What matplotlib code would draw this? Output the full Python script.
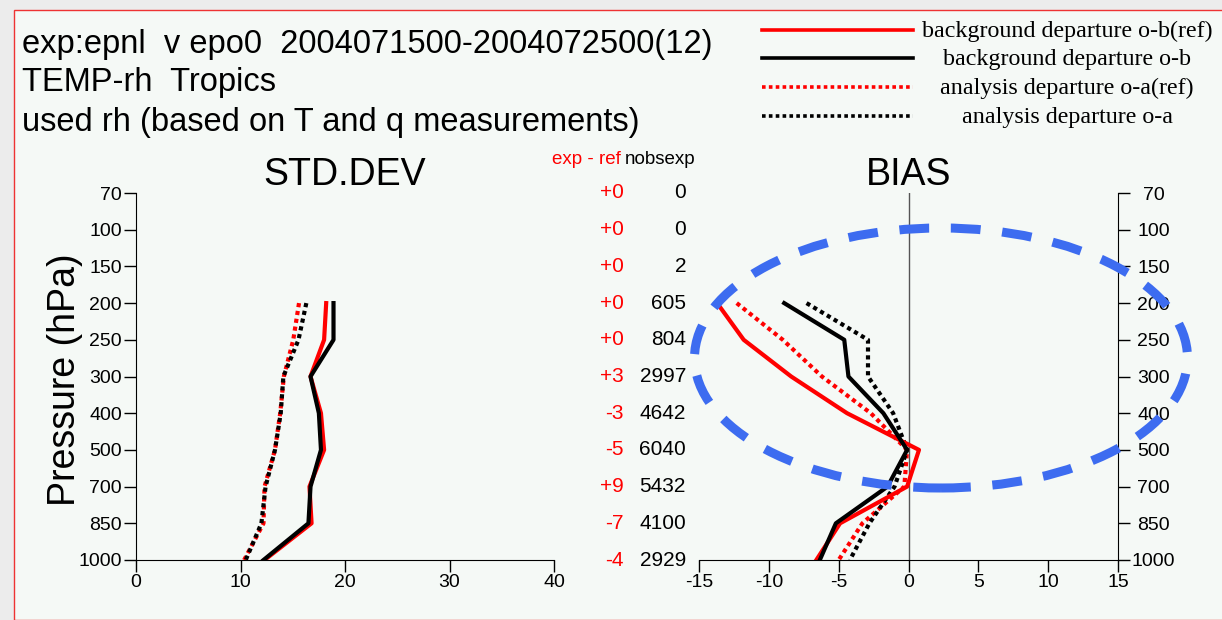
import numpy as np
import matplotlib
matplotlib.use('Agg')
import matplotlib.pyplot as plt
from matplotlib.patches import Ellipse, Rectangle
from matplotlib.lines import Line2D
import matplotlib.transforms as mtransforms

plt.rcParams['axes.unicode_minus'] = False

# pressure levels (hPa), top to bottom
levels = ['70', '100', '150', '200', '250', '300', '400', '500', '700', '850', '1000']
used_levels = ['200', '250', '300', '400', '500', '700', '850', '1000']

# STD.DEV profiles
std_ob_ref = [18.2, 18.0, 16.7, 17.7, 18.0, 16.6, 16.8, 12.3]
std_ob = [18.9, 18.9, 16.7, 17.5, 17.7, 16.7, 16.5, 12.2]
std_oa_ref = [15.6, 15.05, 14.15, 13.8, 13.3, 12.3, 12.2, 10.35]
std_oa = [16.3, 15.55, 14.1, 13.85, 13.3, 12.4, 12.0, 10.5]

# BIAS profiles
bias_ob_ref = [-13.7, -11.8, -8.4, -4.4, 0.75, -0.1, -4.9, -6.6]
bias_ob = [-8.9, -4.6, -4.3, -1.8, -0.1, -1.5, -5.2, -6.35]
bias_oa_ref = [-12.3, -9.0, -6.2, -2.7, -0.1, -0.3, -3.3, -5.0]
bias_oa = [-7.3, -2.9, -2.9, -1.1, -0.1, -1.0, -2.8, -4.2]

# numbers between the panels
diff_exp_ref = ['+0', '+0', '+0', '+0', '+0', '+3', '-3', '-5', '+9', '-7', '-4']
nobs_exp = ['0', '0', '2', '605', '804', '2997', '4642', '6040', '5432', '4100', '2929']

legend_labels = ['background departure o-b(ref)', 'background departure o-b',
                 'analysis departure o-a(ref)', 'analysis departure o-a']

W, H = 1222, 620
fig = plt.figure(figsize=(W / 100, H / 100), dpi=100)
fig.patch.set_facecolor('#ececec')

# inner frame with red border
fig.patches.append(Rectangle((14 / W, 0), 1.0, 1 - 10 / H, transform=fig.transFigure,
                             facecolor='#f5f9f6', edgecolor='#ee3333', lw=1.0, zorder=-10))

sans = 'Liberation Sans'
serif = 'Liberation Serif'

# header text
for i, s in enumerate(['exp:epnl  v epo0  2004071500-2004072500(12)',
                       'TEMP-rh  Tropics',
                       'used rh (based on T and q measurements)']):
    fig.text(22 / W, 1 - (44 + 39 * i) / H, s, fontsize=23.5, family=sans,
             va='center', ha='left')

# legend drawn by hand
dot = (0, (1.0, 0.9))
styles = [dict(color='#ff0000', ls='-'), dict(color='black', ls='-'),
          dict(color='#ff0000', ls=dot), dict(color='black', ls=dot)]
leg_y = [30, 58, 87, 116]
for lab, st, y in zip(legend_labels, styles, leg_y):
    fig.lines.append(Line2D([762 / W, 913 / W], [1 - y / H, 1 - y / H], transform=fig.transFigure,
                            lw=2.6, **st))
    fig.text(1067 / W, 1 - (y + 1) / H, lab, fontsize=17.3, family=serif, ha='center', va='center')

ypos = [levels.index(l) for l in used_levels]

# STD.DEV panel
ax1 = fig.add_axes([136 / W, 1 - 560 / H, 418 / W, 367 / H])
ax1.set_facecolor('none')
ax1.plot(std_oa_ref, ypos, color='#ff0000', lw=3, ls=dot)
ax1.plot(std_oa, ypos, color='black', lw=3, ls=dot)
ax1.plot(std_ob_ref, ypos, color='#ff0000', lw=3)
ax1.plot(std_ob, ypos, color='black', lw=3)
ax1.set_xlim(0, 40)
ax1.set_ylim(len(levels) - 1, 0)
ax1.set_xticks([0, 10, 20, 30, 40])
ax1.set_yticks(range(len(levels)))
ax1.set_yticklabels(levels)
for s in ['top', 'right']:
    ax1.spines[s].set_visible(False)
ax1.tick_params(length=8.6, width=1, labelsize=14, pad=1.5)
ax1.set_ylabel('Pressure (hPa)', fontsize=27, family=sans)
ax1.yaxis.set_label_coords(-0.127, 0.49)
ax1.set_title('STD.DEV', fontsize=27, family=sans, pad=6)

# BIAS panel
ax2 = fig.add_axes([699 / W, 1 - 560 / H, 419 / W, 367 / H])
ax2.set_facecolor('none')
ax2.axvline(0, color='#555555', lw=1.0)
ax2.plot(bias_oa_ref, ypos, color='#ff0000', lw=3, ls=dot)
ax2.plot(bias_oa, ypos, color='black', lw=3, ls=dot)
ax2.plot(bias_ob_ref, ypos, color='#ff0000', lw=3)
ax2.plot(bias_ob, ypos, color='black', lw=3)
ax2.set_xlim(-15, 15)
ax2.set_ylim(len(levels) - 1, 0)
ax2.set_xticks([-15, -10, -5, 0, 5, 10, 15])
ax2.set_yticks(range(len(levels)))
ax2.set_yticklabels(levels)
ax2.yaxis.tick_right()
for s in ['top', 'left']:
    ax2.spines[s].set_visible(False)
ax2.tick_params(length=8.6, width=1, labelsize=14, pad=1.5)
ax2.tick_params(axis='y', pad=17)
for lab in ax2.get_yticklabels():
    lab.set_horizontalalignment('center')
ax2.set_title('BIAS', fontsize=27, family=sans, pad=6)

for ax in (ax1, ax2):
    for lab in ax.get_xticklabels() + ax.get_yticklabels():
        lab.set_family(sans)

# nobs columns
tr = mtransforms.blended_transform_factory(fig.transFigure, ax2.transData)
for i, (d, n) in enumerate(zip(diff_exp_ref, nobs_exp)):
    fig.text(624 / W, i, d, transform=tr, color='#ff0000', fontsize=15, family=sans,
             ha='right', va='center')
    fig.text(686 / W, i, n, transform=tr, color='black', fontsize=15, family=sans,
             ha='right', va='center')
fig.text(552 / W, 1 - 160 / H, 'exp - ref', color='#ff0000', fontsize=13.5, family=sans,
         ha='left', va='center')
fig.text(625 / W, 1 - 160 / H, 'nobsexp', color='black', fontsize=13.5, family=sans,
         ha='left', va='center')

# blue dashed annotation ellipse
fig.patches.append(Ellipse((941 / W, 1 - 358 / H), 493 / W, 260 / H, transform=fig.transFigure,
                           fill=False, edgecolor='#3d6cf0', lw=6.5, ls=(0, (3.3, 2.4)), zorder=20))

fig.savefig('out.png', dpi=100, facecolor=fig.get_facecolor())
